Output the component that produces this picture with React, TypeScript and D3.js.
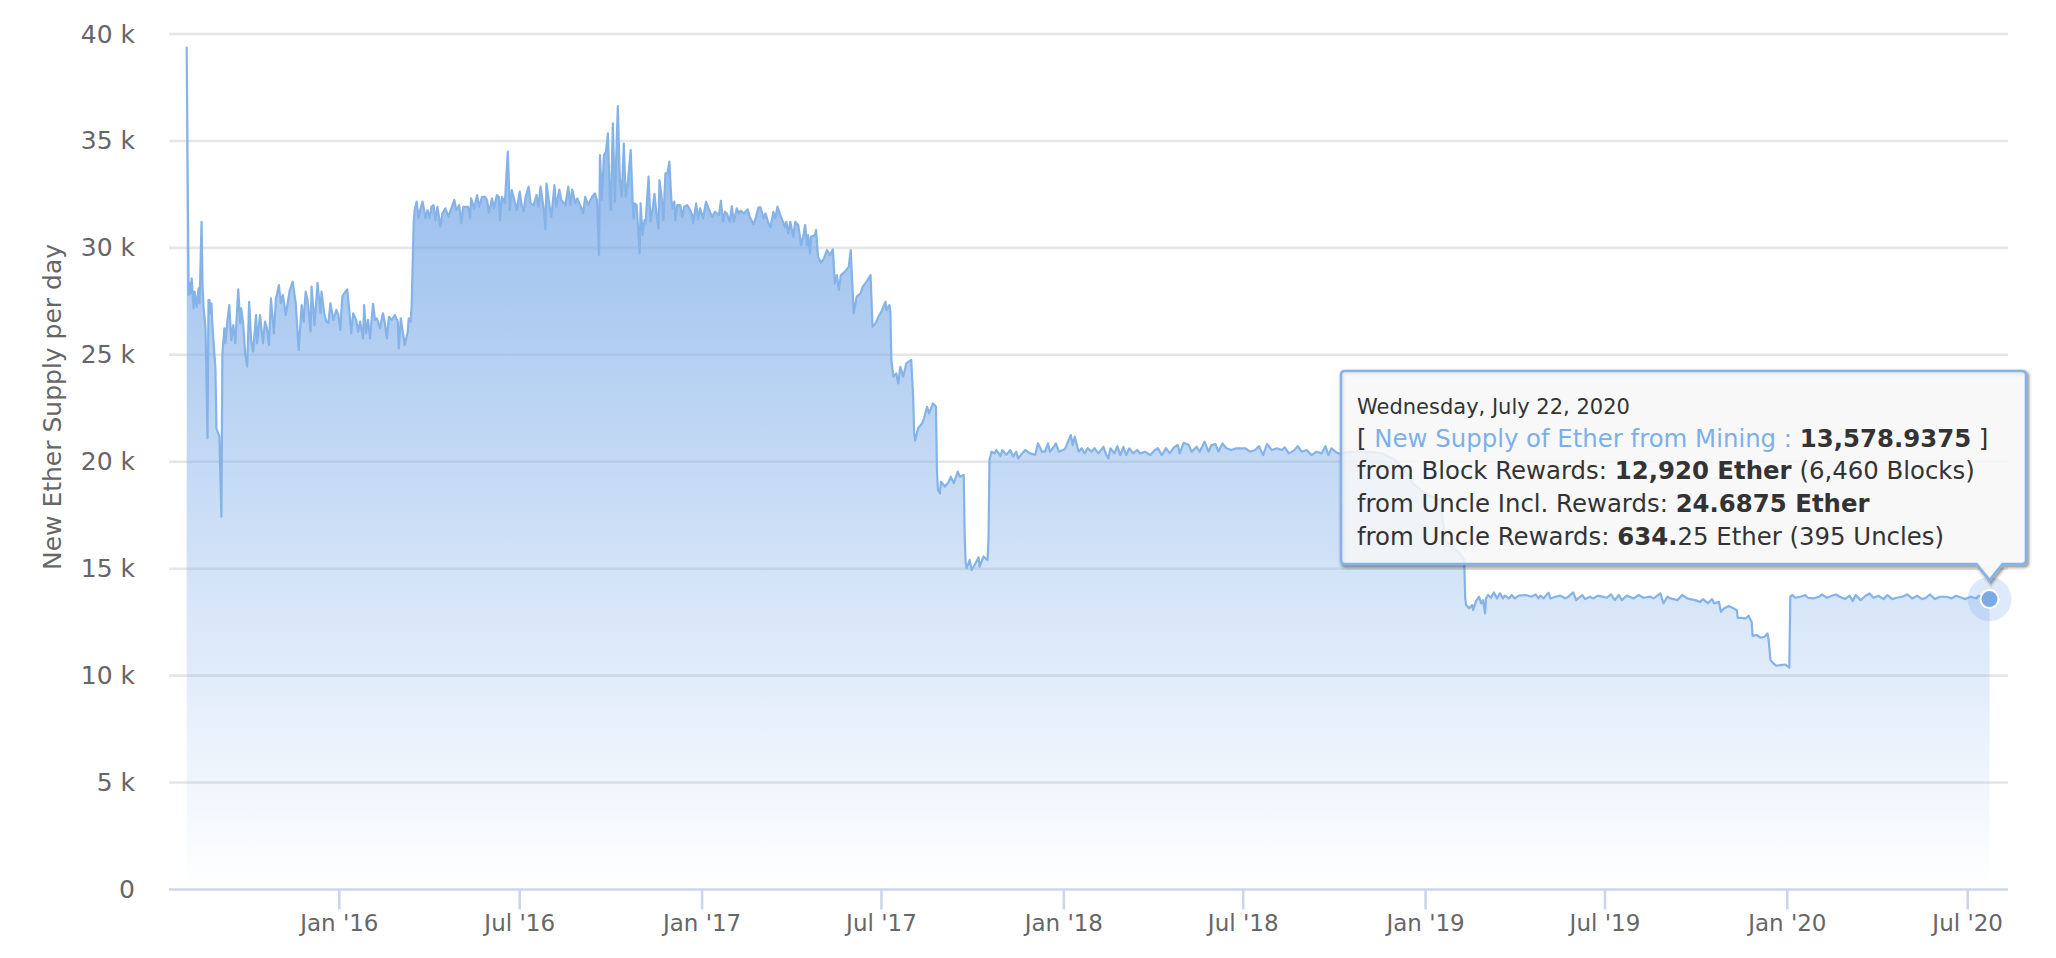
import React from "react";
import * as d3 from "d3";

// [days since launch (2015-07-30), new ether supply that day]
const launchBoom: [number, number][] = [
  [0,39400],[1,33170],[2,27800],[3,28340],[4,27870],[5,28580],[7,27170],[8,27950],[10,27250],[12,28110],[13,27400],[15,31220],[16,28180],[17,27250],[19,26240],[21,21100],[22,27560],[23,27560],[24,26940],[25,27400],[26,26310],[29,24370],[30,21560],[33,21170],[35,17430],[36,25070],[38,26240],[39,25540],[41,26550],[43,27330],[45,25690],[47,26390],[49,25540],[52,28060],[54,26470],[55,27170],[57,26440],[59,25070],[61,24450],[63,27480],[65,25690],[67,25150],[70,26860],[71,25540],[74,26860],[77,25540],[79,26550],[81,26240],[83,25460],[85,27640],[88,26000],[90,27640],[91,27800],[93,28260],[95,27410],[97,27800],[100,26860],[104,28030],[107,28420],[110,27410],[113,25220],[116,27330],[118,26550],[120,27950],[122,27560],[125,26090],[126,28190],[129,26390],[132,28370],[135,26940],[136,27950],[139,26860],[141,26550],[143,26500],[145,27410],[148,26630],[151,27100],[153,26860],[155,26160],[157,27720],[160,27950],[162,28060],[164,27100],[166,26000],[168,26940],[171,26630],[173,26080],[175,26550],[178,25770],[179,27330],[181,26000],[183,26630],[185,25770],[188,27380],[190,26630],[192,26700],[195,26240],[198,26940],[200,26470],[202,25770],[204,26780],[207,26630],[210,26860],[213,26550],[214,25300],[216,26710],[219,25770],[220,25460],[223,26080],[224,26710],[226,26550],[227,27330],
];
const homesteadPlateau: [number, number][] = [
  [229,31150],[230,31770],[232,32160],[234,31380],[236,31850],[238,32160],[241,31380],[243,31770],[245,31380],[247,31920],[249,32000],[251,31300],[253,31920],[256,30990],[258,31610],[261,31850],[264,31460],[267,31850],[270,32240],[272,31770],[275,32000],[277,31150],[279,31920],[284,31920],[286,31380],[287,32310],[290,31850],[293,32470],[295,31920],[298,32390],[301,32390],[303,32240],[305,31640],[308,32310],[310,31850],[313,32470],[315,32390],[316,31300],[318,32390],[321,32080],[324,34500],[326,31770],[328,32700],[331,32160],[333,31770],[336,32630],[338,32000],[340,31690],[342,32390],[345,32860],[347,32080],[350,32000],[353,32470],[355,31920],[357,32860],[360,31930],[362,30860],[363,33010],[366,32000],[368,31450],[371,32930],[373,31920],[376,32730],[378,32230],[382,32000],[385,32860],[387,32000],[389,32730],[392,32080],[394,32310],[397,32000],[400,31610],[402,32390],[405,32000],[409,32390],[412,32550],[414,32230],[416,29660],[417,34340],[419,32240],[421,34340],[423,34500],[425,35350],[427,32240],[428,31770],[430,35820],[432,32160],[435,36630],[437,33250],[439,32390],[441,34880],[443,32390],[445,33010],[448,34570],[450,32080],[451,31380],[452,32080],[454,32000],[457,29740],[458,32080],[460,30600],[462,31300],[463,31140],[466,33330],[468,31220],[470,31770],[472,32520],[474,31610],[476,30910],[477,33170],[479,32470],[481,31300],[483,33480],[485,33480],[487,34030],[489,32240],[490,31850],[492,32160],[493,31300],[495,32000],[498,32000],[500,31450],[502,31920],[505,32000],[508,31770],[510,31530],[511,31140],[514,32080],[516,31330],[518,31850],[521,31380],[524,32160],[526,31920],[530,31450],[533,31690],[537,31530],[539,32200],[541,31220],[543,31690],[545,31610],[548,31220],[550,31950],[552,31220],[555,31850],[557,31610],[559,31740],[562,31610],[566,31800],[568,31450],[572,31100],[574,31380],[577,31900],[579,31900],[582,31380],[584,31610],[587,31150],[589,30960],[592,31690],[594,31380],[596,31930],[599,31530],[601,31300],[604,30960],[605,31220],[607,30680],[609,31220],[612,30520],[614,31220],[617,31070],[620,30130],[622,30520],[624,31070],[626,30130],[627,30600],[629,29740],[630,30520],[634,30600],[635,30830],
];
const difficultySteps: [number, number][] = [
  [637,29590],[640,29300],[643,29510],[646,29900],[649,29660],[652,29930],[654,28340],[656,28730],[658,28030],[660,28730],[664,28880],[668,29120],[670,29900],[673,26940],[676,27720],[680,27870],[682,28180],[686,28420],[690,28730],[692,26310],[695,26470],[698,26780],[701,27020],[705,27480],[706,27090],[709,27330],[710,27020],[711,24750],[713,23980],[716,24130],[718,23660],[720,24440],[723,23980],[726,24600],[731,24760],[733,23040],[734,21330],[735,21000],[738,21560],[742,21800],[744,22030],[747,22570],[749,22260],[753,22730],[756,22570],[757,19600],[758,18680],[760,18520],[761,19070],[765,18840],[769,19070],[771,19300],[774,19000],[778,19540],[780,19300],[784,19380],[785,16500],[786,15250],[787,15020],[790,15410],[792,14940],[795,15170],[799,15530],[800,15100],[804,15570],[808,15410],[809,16340],[810,20080],
];
const byzantiumPlateau: [number, number][] = [
  [812,20470],[815,20390],[817,20550],[821,20270],[823,20550],[827,20320],[831,20550],[834,20240],[837,20470],[839,20160],[843,20390],[846,20550],[851,20390],[856,20320],[859,20860],[863,20470],[866,20470],[869,20860],[871,20470],[875,20700],[877,20860],[880,20470],[886,20580],[890,21020],[892,21250],[894,20780],[896,21170],[900,20470],[903,20630],[906,20390],[909,20630],[913,20470],[916,20630],[920,20390],[925,20700],[928,20310],[930,20160],[932,20630],[936,20390],[939,20730],[942,20310],[945,20700],[948,20310],[951,20630],[955,20390],[959,20550],[962,20390],[967,20470],[972,20310],[977,20550],[980,20630],[984,20310],[988,20630],[992,20390],[996,20670],[1000,20780],[1002,20390],[1006,20890],[1011,20780],[1014,20470],[1019,20700],[1022,20470],[1027,20940],[1031,20470],[1034,20780],[1038,20830],[1041,20470],[1045,20860],[1049,20630],[1054,20550],[1059,20630],[1065,20630],[1068,20630],[1073,20470],[1078,20550],[1082,20730],[1086,20310],[1090,20830],[1095,20550],[1100,20630],[1105,20550],[1108,20670],[1112,20390],[1117,20520],[1121,20730],[1125,20470],[1130,20550],[1135,20310],[1140,20470],[1145,20390],[1149,20730],[1152,20310],[1155,20630],[1159,20470],[1162,20390],[1169,20430],[1184,20500],[1206,20400],[1219,20100],[1234,19300],[1237,19000],[1250,18500],[1265,18200],[1270,16300],[1285,15700],[1289,15400],
];
const constantinoplePlateau: [number, number][] = [
  [1290,13610],[1291,13300],[1294,13150],[1297,13300],[1298,13070],[1301,13490],[1304,13690],[1306,13380],[1308,13530],[1310,12910],[1311,13610],[1313,13770],[1316,13640],[1319,13890],[1322,13610],[1325,13850],[1328,13610],[1330,13740],[1334,13610],[1337,13770],[1340,13610],[1344,13740],[1351,13770],[1357,13690],[1361,13800],[1364,13610],[1366,13740],[1369,13610],[1374,13880],[1376,13610],[1381,13690],[1386,13740],[1391,13610],[1394,13690],[1399,13890],[1402,13530],[1408,13770],[1411,13580],[1416,13690],[1419,13610],[1424,13740],[1433,13640],[1437,13800],[1441,13530],[1445,13770],[1448,13530],[1453,13740],[1460,13610],[1465,13770],[1470,13640],[1477,13690],[1480,13610],[1487,13850],[1490,13380],[1494,13690],[1497,13610],[1504,13530],[1509,13770],[1514,13610],[1517,13580],[1522,13530],[1527,13450],[1530,13580],[1535,13380],[1539,13580],[1541,13380],[1546,13450],[1548,12990],[1551,13140],[1556,13250],[1561,13140],[1564,13060],[1565,12700],[1569,12700],[1573,12670],[1576,12800],[1578,12600],[1579,12520],[1580,11860],[1584,11900],[1588,11770],[1592,11820],[1595,11970],[1596,11740],[1598,10730],[1601,10570],[1604,10460],[1608,10490],[1613,10520],[1617,10370],[1618,13690],
];
const istanbulPlateau: [number, number][] = [
  [1620,13770],[1623,13640],[1628,13687],[1633,13765],[1636,13640],[1641,13609],[1647,13687],[1650,13796],[1655,13640],[1660,13734],[1664,13796],[1668,13687],[1673,13578],[1678,13734],[1681,13485],[1684,13765],[1689,13531],[1694,13734],[1698,13843],[1702,13640],[1707,13734],[1712,13578],[1716,13765],[1721,13578],[1725,13640],[1731,13687],[1736,13796],[1741,13609],[1746,13734],[1751,13578],[1755,13640],[1759,13796],[1764,13578],[1769,13687],[1776,13687],[1781,13609],[1785,13734],[1791,13640],[1794,13578],[1800,13687],[1806,13609],[1808,13734],[1813,13620],[1819,13578.9375],
];

const supplySeries = [...launchBoom, ...homesteadPlateau, ...difficultySteps, ...byzantiumPlateau, ...constantinoplePlateau, ...istanbulPlateau];
const supplyTicks = [0, 5000, 10000, 15000, 20000, 25000, 30000, 35000, 40000];
const dateTicks = ["2016-01-01", "2016-07-01", "2017-01-01", "2017-07-01", "2018-01-01", "2018-07-01", "2019-01-01", "2019-07-01", "2020-01-01", "2020-07-01"];
const launchDate = "2015-07-30";
const lastDate = "2020-07-22";

const yAxisTitle = "New Ether Supply per day";
const tooltipDate = "Wednesday, July 22, 2020";

const FONT = "'DejaVu Sans', sans-serif";
const BLUE = "#7cace8";
const TEXT = "#666666";

export default function App() {
  const x = d3.scaleUtc().domain([new Date(launchDate), new Date(lastDate)]).range([186.7, 1989.5]);
  const y = d3.scaleLinear().domain([0, 40000]).range([889.5, 34]);
  const dateOf = (d: number) => d3.utcDay.offset(new Date(launchDate), d);
  const line = d3.line<[number, number]>().x((d) => x(dateOf(d[0]))).y((d) => y(d[1]));
  const area = d3.area<[number, number]>().x((d) => x(dateOf(d[0]))).y0(y(0)).y1((d) => y(d[1]));
  const fmtDate = d3.utcFormat("%b '%y");
  const last = supplySeries[supplySeries.length - 1];
  const px = x(dateOf(last[0]));
  const py = y(last[1]);

  const L = 1341, R = 2026, T = 371, B = 564, r = 4;
  const tipX = px, tipY = py - 19;
  const tooltipPath = `M${L + r},${T}H${R - r}Q${R},${T} ${R},${T + r}V${B - r}Q${R},${B} ${R - r},${B}H${tipX + 13}L${tipX},${tipY}L${tipX - 13},${B}H${L + r}Q${L},${B} ${L},${B - r}V${T + r}Q${L},${T} ${L + r},${T}Z`;

  return (
    <svg width={2056} height={958} style={{ position: "absolute", left: 0, top: 0, display: "block", background: "#fff" }} fontFamily={FONT}>
      <defs>
        <linearGradient id="fade" gradientUnits="userSpaceOnUse" x1={0} x2={0} y1={y(39400)} y2={y(0)}>
          <stop offset="0" stopColor={BLUE} stopOpacity={0.9} />
          <stop offset="1" stopColor={BLUE} stopOpacity={0} />
        </linearGradient>
      </defs>
      {supplyTicks.filter((t) => t > 0).map((t) => (
        <line key={t} x1={169} x2={2008} y1={y(t)} y2={y(t)} stroke="#e6e6e6" strokeWidth={2.6} />
      ))}
      <line x1={169} x2={2008} y1={y(0)} y2={y(0)} stroke="#ccd6eb" strokeWidth={2.6} />
      {dateTicks.map((s) => {
        const d = new Date(s);
        return (
          <g key={s}>
            <line x1={x(d) - 1} x2={x(d) - 1} y1={y(0)} y2={y(0) + 20} stroke="#ccd6eb" strokeWidth={2.6} />
            <text x={x(d) - 1} y={931} textAnchor="middle" fontSize={23} fill={TEXT}>{fmtDate(d)}</text>
          </g>
        );
      })}
      {supplyTicks.map((t) => (
        <text key={t} x={135} y={y(t) + 8.5} textAnchor="end" fontSize={25} fill={TEXT}>
          {t === 0 ? "0" : `${t / 1000} k`}
        </text>
      ))}
      <text transform={`translate(61,407) rotate(-90)`} textAnchor="middle" fontSize={25} fill={TEXT}>{yAxisTitle}</text>

      <path d={area(supplySeries) ?? ""} fill="url(#fade)" />
      <path d={line(supplySeries) ?? ""} fill="none" stroke="#85b3e8" strokeWidth={2.2} strokeLinejoin="round" />

      <circle cx={px} cy={py} r={22} fill={BLUE} fillOpacity={0.25} />
      <circle cx={px} cy={py} r={9} fill={BLUE} stroke="#fff" strokeWidth={2} />

      <g fill="none" stroke="#000" transform="translate(1.5,2)">
        <path d={tooltipPath} strokeOpacity={0.06} strokeWidth={8} />
        <path d={tooltipPath} strokeOpacity={0.12} strokeWidth={5} />
        <path d={tooltipPath} strokeOpacity={0.18} strokeWidth={2.5} />
      </g>
      <path d={tooltipPath} fill="#f7f7f7" fillOpacity={0.85} stroke="#85b3e8" strokeWidth={2.6} />
      <g fill="#333333" fontSize={24.4}>
        <text x={1357} y={414} fontSize={21}>{tooltipDate}</text>
        <text x={1357} y={447}>
          [ <tspan fill="#7cb0ea">New Supply of Ether from Mining : </tspan>
          <tspan fontWeight="bold">13,578.9375</tspan> ]
        </text>
        <text x={1357} y={479}>
          from Block Rewards: <tspan fontWeight="bold">12,920 Ether</tspan> (6,460 Blocks)
        </text>
        <text x={1357} y={512}>
          from Uncle Incl. Rewards: <tspan fontWeight="bold">24.6875 Ether</tspan>
        </text>
        <text x={1357} y={545}>
          from Uncle Rewards: <tspan fontWeight="bold">634.</tspan>25 Ether (395 Uncles)
        </text>
      </g>
    </svg>
  );
}
